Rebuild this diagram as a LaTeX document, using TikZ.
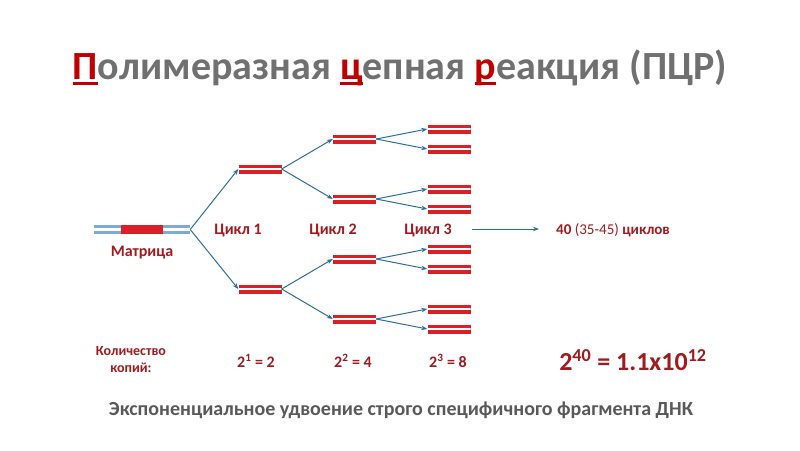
\documentclass[tikz,border=0pt]{standalone}
\usepackage{fontspec}
\setmainfont{Carlito}
\usetikzlibrary{arrows.meta}
\definecolor{tgray}{HTML}{707070}
\definecolor{tred}{HTML}{C00000}
\definecolor{lred}{HTML}{A01A1E}
\definecolor{sgray}{HTML}{595959}
\definecolor{dnared}{HTML}{DA1F27}
\definecolor{ablue}{HTML}{2C6E9E}
\definecolor{lblue}{HTML}{7DA9D3}
\newlength\ulw
\newcommand\redu[1]{\settowidth\ulw{#1}\textcolor{tred}{#1\hspace{-\ulw}\rule[-5pt]{\ulw}{3pt}}}
\begin{document}
\begin{tikzpicture}[x=1pt,y=-1pt,
 dup/.style={rectangle, inner sep=0, minimum width=43pt, minimum height=9pt, fill=dnared,
   path picture={\draw[white,line width=1.3pt] (path picture bounding box.west) -- (path picture bounding box.east);}},
 arr/.style={-{Stealth[length=6pt,width=4.5pt]}, draw=ablue, line width=1pt},
 lab/.style={font=\bfseries\fontsize{16}{18}\selectfont, text=lred, inner sep=0},
]
\useasboundingbox (0,0) rectangle (800,450);
% title
\node (title) [font=\bfseries\fontsize{40}{44}\selectfont, text=tgray, inner sep=0] at (400,68)
  {\redu{П}олимеразная \redu{ц}епная \redu{р}еакция (ПЦР)};
% template
\node (tmpl) [rectangle, inner sep=0, minimum width=96pt, minimum height=10pt, path picture={
  \draw[lblue, line width=2.6pt] ([yshift=3pt]path picture bounding box.west) -- ([yshift=3pt]path picture bounding box.east);
  \draw[lblue, line width=2.6pt] ([yshift=-3pt]path picture bounding box.west) -- ([yshift=-3pt]path picture bounding box.east);
  \fill[dnared] ([xshift=-21pt,yshift=0.8pt]path picture bounding box.south) rectangle ([xshift=21pt,yshift=-0.8pt]path picture bounding box.north);
}] at (142,229.5) {};
\node (mlab) [lab] at (142,253) {Матрица};
% cycle 1
\node (c1a) [dup] at (260,169) {};
\node (c1b) [dup] at (260,289) {};
% cycle 2
\node (c2a) [dup] at (354.5,139) {};
\node (c2b) [dup] at (354.5,199) {};
\node (c2c) [dup] at (354.5,259) {};
\node (c2d) [dup] at (354.5,319) {};
% cycle 3
\node (c3a) [dup] at (449,129) {};
\node (c3b) [dup] at (449,149) {};
\node (c3c) [dup] at (449,189) {};
\node (c3d) [dup] at (449,209) {};
\node (c3e) [dup] at (449,249) {};
\node (c3f) [dup] at (449,269) {};
\node (c3g) [dup] at (449,309) {};
\node (c3h) [dup] at (449,329) {};
% arrows
\draw[arr] (tmpl.east) -- (c1a.west);
\draw[arr] (tmpl.east) -- (c1b.west);
\draw[arr] (c1a.east) -- (c2a.west);
\draw[arr] (c1a.east) -- (c2b.west);
\draw[arr] (c1b.east) -- (c2c.west);
\draw[arr] (c1b.east) -- (c2d.west);
\draw[arr] (c2a.east) -- (c3a.west);
\draw[arr] (c2a.east) -- (c3b.west);
\draw[arr] (c2b.east) -- (c3c.west);
\draw[arr] (c2b.east) -- (c3d.west);
\draw[arr] (c2c.east) -- (c3e.west);
\draw[arr] (c2c.east) -- (c3f.west);
\draw[arr] (c2d.east) -- (c3g.west);
\draw[arr] (c2d.east) -- (c3h.west);
% cycle labels
\node (l1) [lab] at (238,230.5) {Цикл 1};
\node (l2) [lab] at (333,230.5) {Цикл 2};
\node (l3) [lab] at (428,230.5) {Цикл 3};
\coordinate (la) at (472,229);
\coordinate (lb) at (539,229);
\draw[arr] (la) -- (lb);
\node (l40) [lab, font=\bfseries\fontsize{15}{18}\selectfont, anchor=west] at (556,230) {40 {\mdseries (35-45)} циклов};
% counts
\node (kol) [font=\bfseries\fontsize{14}{17}\selectfont, text=lred, align=center, inner sep=0] at (131,360) {Количество\\копий:};
\node (n1) [lab] at (256,361) {2\textsuperscript{1} = 2};
\node (n2) [lab] at (353,361) {2\textsuperscript{2} = 4};
\node (n3) [lab] at (448,361) {2\textsuperscript{3} = 8};
\node (n40) [font=\bfseries\fontsize{26}{30}\selectfont, text=lred, inner sep=0] at (633,360) {2\textsuperscript{40} = 1.1x10\textsuperscript{12}};
% subtitle
\node (sub) [font=\bfseries\fontsize{20}{24}\selectfont, text=sgray, inner sep=0] at (401,410)
  {Экспоненциальное удвоение строго специфичного фрагмента ДНК};
\end{tikzpicture}
\end{document}
